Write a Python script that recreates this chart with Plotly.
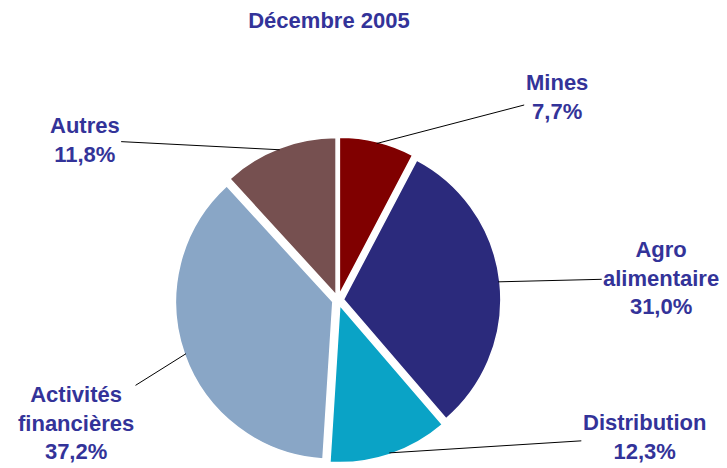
import math

import plotly.graph_objects as go

W, H = 727, 468

sectors = ["Mines", "Agro alimentaire", "Distribution", "Activités financières", "Autres"]
shares = [7.7, 31.0, 12.3, 37.2, 11.8]
label_text = [
    "Mines<br>7,7%",
    "Agro<br>alimentaire<br>31,0%",
    "Distribution<br>12,3%",
    "Activités<br>financières<br>37,2%",
    "Autres<br>11,8%",
]
colors = ["#800000", "#2b2a7c", "#0aa3c6", "#89a6c6", "#765050"]

# label offsets (pixels) from the slice edge to the label centre
label_offsets = [(180, -47), (163, -4), (255, -16), (-110, 69), (-195, -10)]

FONT = "Arial, Liberation Sans, sans-serif"
PULL = 0.035
dom_x = [0.230, 0.678]
dom_y = [0.028, 0.724]

fig = go.Figure(
    go.Pie(
        labels=sectors,
        values=shares,
        sort=False,
        direction="clockwise",
        rotation=0,
        pull=PULL,
        textinfo="none",
        hoverinfo="label+percent",
        marker=dict(colors=colors, line=dict(color="white", width=1.5)),
        domain=dict(x=dom_x, y=dom_y),
        showlegend=False,
    )
)

# pie geometry in pixels, used to anchor the leader lines on each slice
cx = (dom_x[0] + dom_x[1]) / 2 * W
cy = (1 - (dom_y[0] + dom_y[1]) / 2) * H
radius = min((dom_x[1] - dom_x[0]) * W, (dom_y[1] - dom_y[0]) * H) / 2 / (1 + PULL)

total = sum(shares)
start = 0.0
for value, text, (ax, ay) in zip(shares, label_text, label_offsets):
    mid = math.radians((start + value / 2) / total * 360)
    start += value
    r = radius * (1 + PULL) * 0.99
    px_ = cx + r * math.sin(mid)
    py_ = cy - r * math.cos(mid)
    fig.add_annotation(
        x=px_ / W,
        y=1 - py_ / H,
        xref="paper",
        yref="paper",
        text=f"<b>{text}</b>",
        showarrow=True,
        arrowhead=0,
        arrowwidth=1,
        arrowcolor="black",
        ax=ax,
        ay=ay,
        axref="pixel",
        ayref="pixel",
        align="center",
        font=dict(family=FONT, size=22, color="#333399"),
    )

fig.update_layout(
    width=W,
    height=H,
    margin=dict(l=0, r=0, t=0, b=0),
    paper_bgcolor="white",
    plot_bgcolor="white",
    title=dict(
        text="<b>Décembre 2005</b>",
        x=0.4415,
        xanchor="center",
        y=0.974,
        yanchor="middle",
        font=dict(family=FONT, size=22, color="#333399"),
    ),
)

fig.write_html("out.html")
